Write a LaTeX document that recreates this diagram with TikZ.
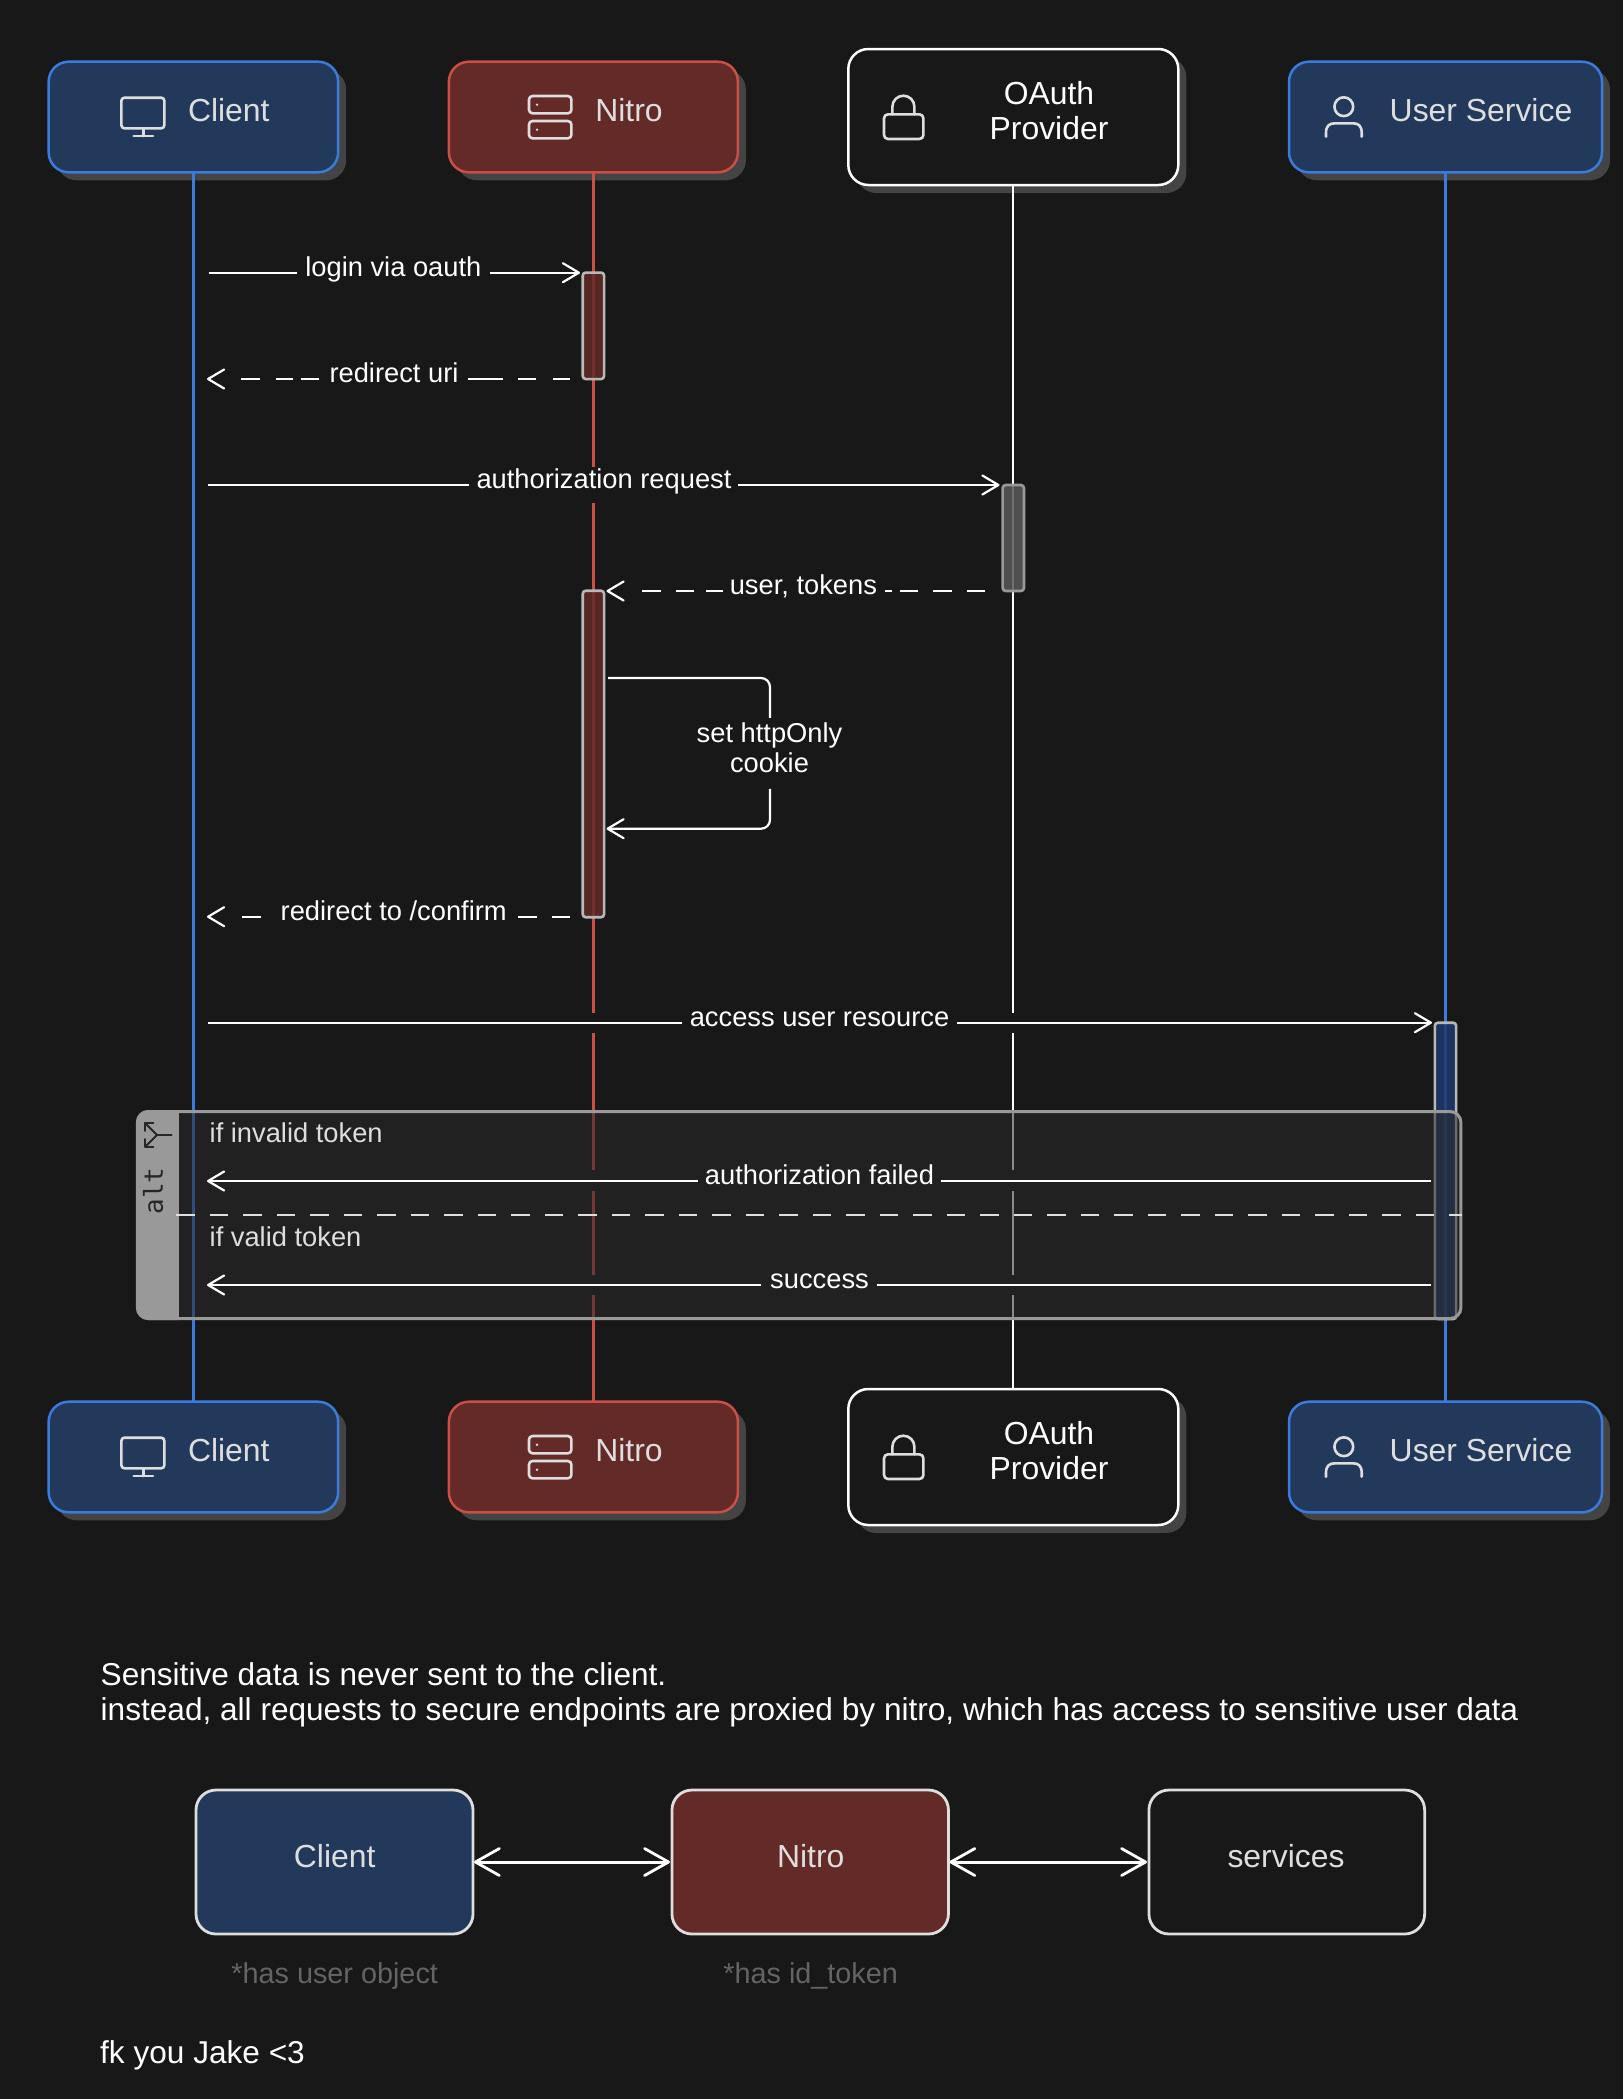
\documentclass[tikz,border=0pt]{standalone}
\usepackage{fontspec}
\setmainfont{Liberation Sans}
\newfontfamily\monof{DejaVu Sans Mono}
\usetikzlibrary{arrows.meta,shadows}
\definecolor{bgc}{HTML}{181818}
\definecolor{shc}{HTML}{444444}
\definecolor{bluefill}{HTML}{23395C}
\definecolor{blueline}{HTML}{3B7BDD}
\definecolor{redfill}{HTML}{632A27}
\definecolor{redline}{HTML}{C94F47}
\definecolor{soft}{HTML}{DEDEDE}
\definecolor{framec}{HTML}{999999}
\definecolor{framefill}{HTML}{2A2A2A}
\definecolor{notec}{HTML}{646464}
\definecolor{barline}{HTML}{B8B8B8}
\tikzset{
  x=1pt,y=-1pt,
  partbox/.style={rectangle,rounded corners=20pt,line width=2.5pt,outer sep=0pt,inner sep=0pt,
    minimum height=110.6pt,drop shadow={shadow xshift=8pt,shadow yshift=-8pt,fill=shc,opacity=1}},
  blueb/.style={partbox,draw=blueline,fill=bluefill},
  redb/.style={partbox,draw=redline,fill=redfill},
  whiteb/.style={partbox,draw=white,fill=bgc,minimum height=136pt},
  flowbox/.style={rectangle,rounded corners=20pt,line width=2.8pt,draw=soft,outer sep=0pt,inner sep=0pt,minimum width=276.5pt,minimum height=144pt},
  lifeblue/.style={line width=2.2pt,draw=blueline},
  lifered/.style={line width=2.2pt,draw=redline},
  lifewhite/.style={line width=2.2pt,draw=white},
  gappatch/.style={rectangle,fill=bgc,inner sep=0pt,outer sep=0pt,minimum width=6pt},
  actbar/.style={rectangle,rounded corners=3pt,draw=barline,line width=2.6pt,fill opacity=.85,draw opacity=1,inner sep=0pt,outer sep=0pt,minimum width=21.3pt},
  msg/.style={line width=2.2pt,draw=white,-{Straight Barb[length=16pt,width=19pt,line width=2.2pt,round]}},
  dbl/.style={line width=3pt,draw=white,{Straight Barb[length=24pt,width=27pt,line width=2.8pt,round]}-{Straight Barb[length=24pt,width=27pt,line width=2.8pt,round]}},
  msgtxt/.style={anchor=base,inner sep=0pt,text=white,font=\fontsize{27.3}{32}\selectfont},
  bigtxt/.style={anchor=base,inner sep=0pt,text=soft,font=\fontsize{31.9}{38}\selectfont},
  conddtxt/.style={anchor=base west,inner sep=0pt,text=soft,font=\fontsize{27.3}{32}\selectfont},
  plaintxt/.style={anchor=base west,inner sep=0pt,text=white,font=\fontsize{31.6}{36}\selectfont},
  notetxt/.style={anchor=base,inner sep=0pt,text=notec,font=\fontsize{28.8}{34}\selectfont},
  icon/.style={draw=soft,line width=2.6pt,line cap=round,line join=round},
}
\newcommand{\iconmonitor}[1]{%
  \begin{scope}[yshift=#1]
  \draw[icon,rounded corners=3pt] (121.4,97.7) rectangle (164.3,128.3);
  \draw[icon] (143.4,128.3) -- (143.4,136) (133.7,136) -- (153,136);
  \end{scope}}
\newcommand{\iconserver}[1]{%
  \begin{scope}[yshift=#1]
  \draw[icon,rounded corners=3.5pt] (529,96) rectangle (571.4,113.3);
  \draw[icon,rounded corners=3.5pt] (529,121) rectangle (571.4,138.3);
  \fill[soft] (537,104.7) circle (1.3pt) (537,129.7) circle (1.3pt);
  \end{scope}}
\newcommand{\iconlock}[1]{%
  \begin{scope}[yshift=#1]
  \draw[icon,rounded corners=4pt] (884,114.3) rectangle (923.4,139);
  \draw[icon] (892.4,114.3) -- (892.4,106.7) arc[start angle=180,end angle=360,x radius=11,y radius=11] -- (914.4,114.3);
  \end{scope}}
\newcommand{\iconuser}[1]{%
  \begin{scope}[yshift=#1]
  \draw[icon] (1343.8,106.7) circle (9.4pt);
  \draw[icon] (1326,136.7) -- (1326,133) .. controls (1326,126) and (1329,123.3) .. (1335,123.3) -- (1353,123.3) .. controls (1358.7,123.3) and (1361.7,126) .. (1361.7,133) -- (1361.7,136.7);
  \end{scope}}
\begin{document}
\begin{tikzpicture}
\useasboundingbox (0,0) rectangle (1623,2099);
\fill[bgc] (0,0) rectangle (1623,2099);

% participants, top
\node[blueb,minimum width=289.5pt] (clientT) at (193.4,117) {};
\node[redb,minimum width=289pt] (nitroT) at (593.4,117) {};
\node[whiteb,minimum width=330pt] (oauthT) at (1013.3,117) {};
\node[blueb,minimum width=313pt] (userT) at (1445.5,117) {};
% participants, bottom
\node[blueb,minimum width=289.5pt] (clientB) at (193.4,1457) {};
\node[redb,minimum width=289pt] (nitroB) at (593.4,1457) {};
\node[whiteb,minimum width=330pt] (oauthB) at (1013.3,1457) {};
\node[blueb,minimum width=313pt] (userB) at (1445.5,1457) {};

% lifelines
\draw[lifeblue] (clientT.south) -- (clientB.north);
\draw[lifered] (nitroT.south) -- (nitroB.north);
\draw[lifewhite] (oauthT.south) -- (oauthB.north);
\draw[lifeblue] (userT.south) -- (userB.north);

% openings in the lifelines beside the messages
\node[gappatch,minimum height=36pt] (g1) at (593.4,484.7) {};
\node[gappatch,minimum height=20.5pt] (g2) at (593.4,1023) {};
\node[gappatch,minimum height=20.5pt] (g3) at (1013.3,1023) {};
\node[gappatch,minimum height=21pt] (g4) at (593.4,1180.5) {};
\node[gappatch,minimum height=21pt] (g5) at (1013.3,1180.5) {};
\node[gappatch,minimum height=20pt] (g6) at (593.4,1285) {};
\node[gappatch,minimum height=20pt] (g7) at (1013.3,1285) {};

% activations
\node[actbar,fill=redfill,minimum height=106.5pt] (a1) at (593.4,325.8) {};
\node[actbar,fill={rgb,255:red,89;green,89;blue,89},draw=framec,minimum height=106pt] (a2) at (1013.3,538) {};
\node[actbar,fill=redfill,minimum height=326.5pt] (a3) at (593.4,754) {};
\node[actbar,fill={rgb,255:red,32;green,58;blue,109},minimum height=296.3pt] (a4) at (1445.5,1170.9) {};

% alt frame
\node[rectangle,rounded corners=11pt,draw=framec,line width=3pt,fill=framefill,fill opacity=.55,draw opacity=1,inner sep=0pt,outer sep=0pt,minimum width=1323.5pt,minimum height=207pt] (altframe) at (799.2,1215) {};
\begin{scope}
  \clip[rounded corners=12pt] (136,1110) rectangle (1463,1320);
  \fill[framec] (135,1109.5) rectangle (179.3,1320.5);
\end{scope}
\draw[line width=2pt,draw=soft,dash pattern=on 18.6pt off 14.9pt] (176,1215) -- (1462,1215);
\node[rotate=90,inner sep=0pt,text=black!85,font=\monof\fontsize{26}{30}\selectfont] (alttxt) at (153,1191) {alt};
\begin{scope}[line cap=round,line join=round]
  \draw[black!85,line width=1.8pt] (171.7,1135) -- (157,1135) -- (145.3,1123.3);
  \draw[black!85,line width=1.8pt] (157,1135) -- (145.3,1146.7);
  \draw[black!85,line width=1.8pt] (153.5,1123.3) -- (145.3,1123.3) -- (145.3,1131);
  \draw[black!85,line width=1.8pt] (153.5,1146.7) -- (145.3,1146.7) -- (145.3,1139);
\end{scope}

% message end points
\coordinate (m1a) at (208.7,272.7); \coordinate (m1b) at (580,272.7);
\coordinate (m2a) at (570,379);     \coordinate (m2b) at (207,379);
\coordinate (m3a) at (208,485);     \coordinate (m3b) at (999.5,485);
\coordinate (m4a) at (985,591);     \coordinate (m4b) at (606.5,591);
\coordinate (m5a) at (608,678);     \coordinate (m5b) at (770,678);
\coordinate (m5c) at (770,828.7);   \coordinate (m5d) at (606.5,828.7);
\coordinate (m6a) at (570,916.7);   \coordinate (m6b) at (207,916.7);
\coordinate (m7a) at (208,1022.7);  \coordinate (m7b) at (1432,1022.7);
\coordinate (m8a) at (1431,1181);   \coordinate (m8b) at (207,1181);
\coordinate (m9a) at (1431,1285);   \coordinate (m9b) at (207,1285);

% messages
\draw[msg,dash pattern=on 88.7pt off 192.4pt on 300pt off 0pt] (m1a) -- (m1b);
\draw[msg,dash pattern=on 17.5pt off 16.8pt on 17.7pt off 15.5pt on 34.5pt off 149pt on 18pt off 7.6pt on 17.9pt off 15.5pt on 18.7pt off 60pt] (m2a) -- (m2b);
\draw[msg,dash pattern=on 260.7pt off 269.3pt on 400pt off 0pt] (m3a) -- (m3b);
\draw[msg,dash pattern=on 18.3pt off 15pt on 18.4pt off 15pt on 18.3pt off 8.3pt on 6.7pt off 161.7pt on 17.6pt off 11.7pt on 18.3pt off 15pt on 18.4pt off 60pt] (m4a) -- (m4b);
\draw[msg,rounded corners=9pt,dash pattern=on 198pt off 71pt on 400pt off 0pt] (m5a) -- (m5b) -- (m5c) -- (m5d);
\draw[msg,dash pattern=on 18.3pt off 15pt on 18.4pt off 257.6pt on 18.4pt off 60pt] (m6a) -- (m6b);
\draw[msg,dash pattern=on 473.6pt off 275.8pt on 600pt off 0pt] (m7a) -- (m7b);
\draw[msg,dash pattern=on 490pt off 243.4pt on 600pt off 0pt] (m8a) -- (m8b);
\draw[msg,dash pattern=on 554pt off 116.4pt on 700pt off 0pt] (m9a) -- (m9b);

% message labels
\node[msgtxt] (l1) at (393.4,276.7) {login via oauth};
\node[msgtxt] (l2) at (394,382.8) {redirect uri};
\node[msgtxt] (l3) at (604,488.6) {authorization request};
\node[msgtxt] (l4) at (803.4,594.5) {user, tokens};
\node[msgtxt] (l5a) at (769.5,742.7) {set httpOnly};
\node[msgtxt] (l5b) at (769.5,772) {cookie};
\node[msgtxt] (l6) at (393.7,920.2) {redirect to /confirm};
\node[msgtxt] (l7) at (819.5,1026.4) {access user resource};
\node[msgtxt] (l8) at (819.5,1184.6) {authorization failed};
\node[msgtxt] (l9) at (819.5,1288.6) {success};
\node[conddtxt] (c1) at (209.5,1142) {if invalid token};
\node[conddtxt] (c2) at (209.5,1246) {if valid token};

% participant content, top
\iconmonitor{0pt}\iconserver{0pt}\iconlock{0pt}\iconuser{0pt}
\node[bigtxt] (tc) at (228.8,121) {Client};
\node[bigtxt] (tn) at (629,121) {Nitro};
\node[bigtxt,text=white] (to1) at (1049,104) {OAuth};
\node[bigtxt,text=white] (to2) at (1049,139) {Provider};
\node[bigtxt] (tu) at (1481,121) {User Service};
% participant content, bottom
\iconmonitor{-1340pt}\iconserver{-1340pt}\iconlock{-1340pt}\iconuser{-1340pt}
\node[bigtxt] (bc) at (228.8,1461) {Client};
\node[bigtxt] (bn) at (629,1461) {Nitro};
\node[bigtxt,text=white] (bo1) at (1049,1444) {OAuth};
\node[bigtxt,text=white] (bo2) at (1049,1479) {Provider};
\node[bigtxt] (bu) at (1481,1461) {User Service};

% note
\node[plaintxt] (n1) at (100.5,1685) {Sensitive data is never sent to the client.};
\node[plaintxt] (n2) at (100.5,1720) {instead, all requests to secure endpoints are proxied by nitro, which has access to sensitive user data};

% lower flow
\node[flowbox,fill=bluefill,minimum width=277pt] (fc) at (334.5,1862) {};
\node[flowbox,fill=redfill,minimum width=276.5pt] (fn) at (810.2,1862) {};
\node[flowbox,minimum width=275.7pt] (fs) at (1286.8,1862) {};
\node[bigtxt] (fct) at (334.7,1867) {Client};
\node[bigtxt] (fnt) at (810.7,1867) {Nitro};
\node[bigtxt] (fst) at (1286,1867.5) {services};
\draw[dbl] ([xshift=1pt]fc.east) -- ([xshift=-2pt]fn.west);
\draw[dbl] ([xshift=1pt]fn.east) -- ([xshift=-2pt]fs.west);
\node[notetxt] (fcn) at (334.7,1983.7) {*has user object};
\node[notetxt] (fnn) at (810.7,1983.7) {*has id\_token};
\node[plaintxt] (fk) at (100,2063.7) {fk you Jake <3};
\end{tikzpicture}
\end{document}
